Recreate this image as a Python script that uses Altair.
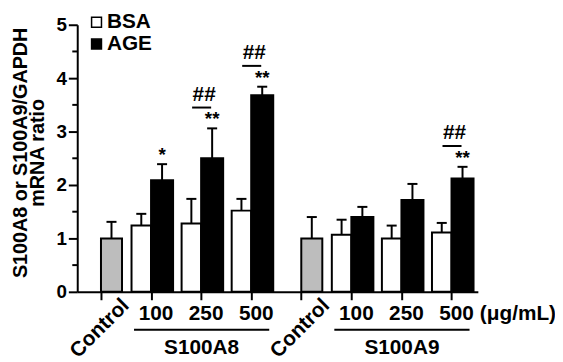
import altair as alt
import pandas as pd

# ---- data ----
slot_labels = ["Control", "100", "250", "500", "Control", "100", "250", "500"]
panel_names = ["S100A8", "S100A9"]
control_mean = [1.00, 1.00]
control_sem = [0.31, 0.40]
a8_bsa_mean = [1.24, 1.28, 1.52]
a8_bsa_sem = [0.22, 0.46, 0.22]
a8_age_mean = [2.09, 2.50, 3.68]
a8_age_sem = [0.30, 0.56, 0.16]
a9_bsa_mean = [1.07, 1.00, 1.11]
a9_bsa_sem = [0.28, 0.24, 0.18]
a9_age_mean = [1.40, 1.72, 2.12]
a9_age_sem = [0.19, 0.30, 0.22]
y_major = [0, 1, 2, 3, 4, 5]
y_minor = [0.5, 1.5, 2.5, 3.5, 4.5]
# significance marks: (slot index, text)
star_marks = [(1, "*"), (2, "**"), (3, "**"), (7, "**")]
hash_marks = [2, 3, 7]
unit_label = "(μg/mL)"

FONT = "Liberation Sans"
ticks = [i + 0.474 for i in range(8)]

rows = []
bsa_m = [a8_bsa_mean, a9_bsa_mean]
bsa_s = [a8_bsa_sem, a9_bsa_sem]
age_m = [a8_age_mean, a9_age_mean]
age_s = [a8_age_sem, a9_age_sem]
for g in range(2):
    base = 4 * g
    t = ticks[base]
    rows.append(dict(cond="Control", x0=t, x1=t + 0.42, m=control_mean[g], s=control_sem[g]))
    for j in range(3):
        t = ticks[base + 1 + j]
        rows.append(dict(cond="BSA", x0=t - 0.39, x1=t, m=bsa_m[g][j], s=bsa_s[g][j]))
        rows.append(dict(cond="AGE", x0=t, x1=t + 0.44, m=age_m[g][j], s=age_s[g][j]))
df = pd.DataFrame(rows)
df["xc"] = (df.x0 + df.x1) / 2
df["top"] = df.m + df.s
df["c0"] = df.xc - 0.1
df["c1"] = df.xc + 0.1

xscale = alt.Scale(domain=[0, 8], nice=False, zero=False)
yscale = alt.Scale(domain=[0, 5], nice=False)

xaxis = alt.Axis(values=ticks, labels=False, title=None, grid=False, tickSize=8,
                 tickWidth=2, domainWidth=2, tickColor="black", domainColor="black")
yaxis = alt.Axis(values=y_major, grid=False, tickSize=9, tickWidth=2, domainWidth=2,
                 tickColor="black", domainColor="black", labelFont=FONT,
                 labelFontSize=19, labelFontWeight="bold", labelColor="black",
                 labelPadding=2, title=["S100A8 or S100A9/GAPDH", "mRNA ratio"],
                 titleFont=FONT, titleFontSize=20, titleFontWeight="bold",
                 titleColor="black", titleX=-67, titleY=129, titleAngle=270,
                 titleBaseline="top", titleAlign="center", titleLineHeight=17)

err_line = alt.Chart(df).mark_rule(color="black", strokeWidth=2).encode(
    x=alt.X("xc:Q", scale=xscale, axis=xaxis),
    y=alt.Y("m:Q", scale=yscale, axis=yaxis),
    y2="top:Q")
err_cap = alt.Chart(df).mark_rule(color="black", strokeWidth=2).encode(
    x="c0:Q", x2="c1:Q", y="top:Q")

bars = alt.Chart(df).mark_bar(stroke="black", strokeWidth=2).encode(
    x="x0:Q", x2="x1:Q", y="m:Q", y2=alt.datum(0),
    color=alt.Color("cond:N",
                    scale=alt.Scale(domain=["BSA", "AGE", "Control"],
                                    range=["white", "black", "#bdbdbd"]),
                    legend=alt.Legend(values=["BSA", "AGE"], orient="none",
                                      legendX=9, legendY=-13, title=None,
                                      symbolType="square", symbolSize=100,
                                      symbolStrokeColor="black", symbolStrokeWidth=1.5,
                                      labelFont=FONT, labelFontSize=21,
                                      labelFontWeight="bold", labelColor="black",
                                      labelOffset=0, rowPadding=0, padding=0)))

minor = alt.Chart(pd.DataFrame({"v": y_minor})).mark_rule(color="black", strokeWidth=2).encode(
    x=alt.value(-5), x2=alt.value(0), y="v:Q")

# x labels
num_df = pd.DataFrame({"x": [ticks[i] + 0.1 for i in range(8) if slot_labels[i] != "Control"],
                       "t": [l for l in slot_labels if l != "Control"],
                       "y": -0.41})
nums = alt.Chart(num_df).mark_text(font=FONT, fontSize=21, fontWeight="bold",
                                    color="black").encode(x="x:Q", y="y:Q", text="t:N")
ctrl_df = pd.DataFrame({"x": [ticks[i] + 0.5 for i in range(8) if slot_labels[i] == "Control"],
                        "t": [l for l in slot_labels if l == "Control"],
                        "y": -0.2})
ctrls = alt.Chart(ctrl_df).mark_text(font=FONT, fontSize=21, fontWeight="bold", color="black",
                                     angle=315, align="right", baseline="middle").encode(
    x="x:Q", y="y:Q", text="t:N")
unit_df = pd.DataFrame({"x": [8.04], "y": [-0.41], "t": [unit_label]})
unit = alt.Chart(unit_df).mark_text(font=FONT, fontSize=21, fontWeight="bold", color="black",
                                    align="left").encode(x="x:Q", y="y:Q", text="t:N")

grp_df = pd.DataFrame({"x0": [ticks[1] - 0.34, ticks[5] - 0.34],
                       "x1": [ticks[3] + 0.36, ticks[7] + 0.36],
                       "name": panel_names, "y": -0.71, "ty": -1.05})
grp_df["xm"] = (grp_df.x0 + grp_df.x1) / 2
grp_lines = alt.Chart(grp_df).mark_rule(color="black", strokeWidth=2).encode(
    x="x0:Q", x2="x1:Q", y="y:Q")
grp_text = alt.Chart(grp_df).mark_text(font=FONT, fontSize=21, fontWeight="bold",
                                        color="black").encode(x="xm:Q", y="ty:Q", text="name:N")

# significance
age_rows = df[df.cond == "AGE"].reset_index(drop=True)
age_slots = [1, 2, 3, 5, 6, 7]
age_top = dict(zip(age_slots, age_rows.top))
age_xc = dict(zip(age_slots, age_rows.xc))
star_df = pd.DataFrame({"x": [age_xc[s] for s, _ in star_marks],
                        "y": [age_top[s] + 0.17 for s, _ in star_marks],
                        "t": [t for _, t in star_marks]})
stars = alt.Chart(star_df).mark_text(font=FONT, fontSize=19, fontWeight="bold",
                                      color="black", baseline="middle").encode(
    x="x:Q", y="y:Q", text="t:N")
hash_df = pd.DataFrame({"x": [ticks[s] + 0.06 for s in hash_marks],
                        "x0": [ticks[s] - 0.18 for s in hash_marks],
                        "x1": [ticks[s] + 0.2 for s in hash_marks],
                        "y": [age_top[s] + 0.63 for s in hash_marks],
                        "ly": [age_top[s] + 0.39 for s in hash_marks],
                        "t": "##"})
hashes = alt.Chart(hash_df).mark_text(font=FONT, fontSize=21, fontWeight="bold",
                                       color="black", baseline="middle").encode(
    x="x:Q", y="y:Q", text="t:N")
hash_lines = alt.Chart(hash_df).mark_rule(color="black", strokeWidth=2).encode(
    x="x0:Q", x2="x1:Q", y="ly:Q")

chart = alt.layer(err_line, err_cap, bars, minor, nums, ctrls, unit, grp_lines, grp_text,
                  stars, hashes, hash_lines).properties(
    width=405, height=270,
    autosize=alt.AutoSizeParams(type="none"),
    padding={"left": 70, "top": 15, "right": 78, "bottom": 68},
).configure_view(stroke=None)

chart.save("out.html", embed_options={"renderer": "svg", "actions": False})
